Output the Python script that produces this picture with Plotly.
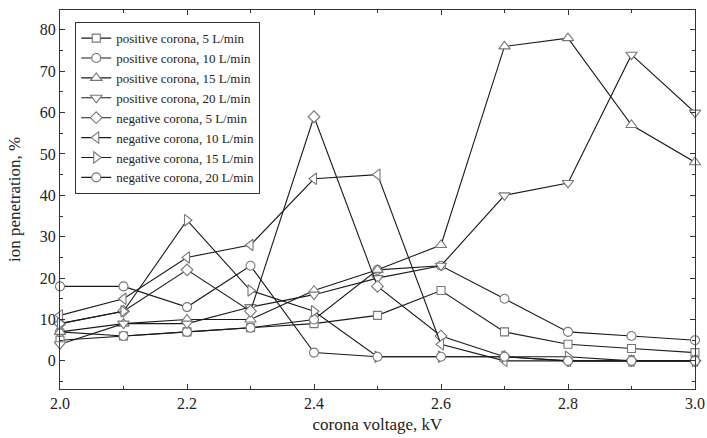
import plotly.graph_objects as go

voltage = [2.0, 2.1, 2.2, 2.3, 2.4, 2.5, 2.6, 2.7, 2.8, 2.9, 3.0]

pos_5 = [5, 6, 7, 8, 9, 11, 17, 7, 4, 3, 2]
pos_10 = [7, 6, 7, 8, 10, 22, 23, 15, 7, 6, 5]
pos_15 = [7, 9, 10, 10, 17, 22, 28, 76, 78, 57, 48]
pos_20 = [4, 9, 9, 13, 16, 20, 23, 40, 43, 74, 60]
neg_5 = [9, 12, 22, 12, 59, 18, 6, 1, 0, 0, 0]
neg_10 = [11, 15, 25, 28, 44, 45, 4, 0, 0, 0, 0]
neg_15 = [9, 12, 34, 17, 12, 1, 1, 1, 1, 0, 0]
neg_20 = [18, 18, 13, 23, 2, 1, 1, 1, 0, 0, 0]

series_names = [
    "positive corona, 5 L/min",
    "positive corona, 10 L/min",
    "positive corona, 15 L/min",
    "positive corona, 20 L/min",
    "negative corona, 5 L/min",
    "negative corona, 10 L/min",
    "negative corona, 15 L/min",
    "negative corona, 20 L/min",
]
series_values = [pos_5, pos_10, pos_15, pos_20, neg_5, neg_10, neg_15, neg_20]
symbols = ["square", "circle", "triangle-up", "triangle-down",
           "diamond", "triangle-left", "triangle-right", "circle"]
sizes = [8, 9, 10, 10, 9, 10, 10, 9]

x_tick_vals = [2.0, 2.2, 2.4, 2.6, 2.8, 3.0]
x_tick_text = ["2.0", "2.2", "2.4", "2.6", "2.8", "3.0"]
y_tick_vals = [0, 10, 20, 30, 40, 50, 60, 70, 80]

FONT = "Liberation Serif, Times New Roman, serif"

fig = go.Figure()
for name, vals, sym, sz in zip(series_names, series_values, symbols, sizes):
    fig.add_trace(go.Scatter(
        x=voltage, y=vals, name=name, mode="lines+markers",
        line=dict(color="#1a1a1a", width=1.1),
        marker=dict(symbol=sym, size=sz, color="white",
                    line=dict(color="#777777", width=1.1)),
        cliponaxis=False,
    ))

axis_common = dict(
    showline=True, linecolor="#333333", linewidth=1.2, mirror="allticks",
    ticks="inside", ticklen=5, tickcolor="#333333", tickwidth=1,
    showgrid=False, zeroline=False, automargin=False,
    tickfont=dict(family=FONT, size=16, color="#222222"),
)

fig.update_layout(
    width=707, height=438,
    margin=dict(l=60, r=12, t=10, b=49),
    paper_bgcolor="white", plot_bgcolor="white",
    font=dict(family=FONT, size=14, color="#222222"),
    showlegend=True,
    legend=dict(
        x=0.024, y=0.968, xanchor="left", yanchor="top",
        bordercolor="#333333", borderwidth=1, bgcolor="white",
        font=dict(family=FONT, size=13, color="#222222"),
        tracegroupgap=0, itemwidth=30,
    ),
    xaxis=dict(
        range=[2.0, 3.0], tickvals=x_tick_vals, ticktext=x_tick_text,
        minor=dict(dtick=0.1, tick0=2.0, ticks="inside", ticklen=3, tickcolor="#333333"),
        title=dict(text="corona voltage, kV", font=dict(family=FONT, size=17), standoff=6),
        **axis_common,
    ),
    yaxis=dict(
        range=[-6.8, 84.8], tickvals=y_tick_vals,
        minor=dict(dtick=5, tick0=0, ticks="inside", ticklen=3, tickcolor="#333333"),
        title=dict(text="ion penetration, %", font=dict(family=FONT, size=17), standoff=14),
        **axis_common,
    ),
)

fig.write_html(
    "out.html",
    config={"displayModeBar": False},
    post_script="document.body.style.margin='0';document.body.style.overflow='hidden';",
)
